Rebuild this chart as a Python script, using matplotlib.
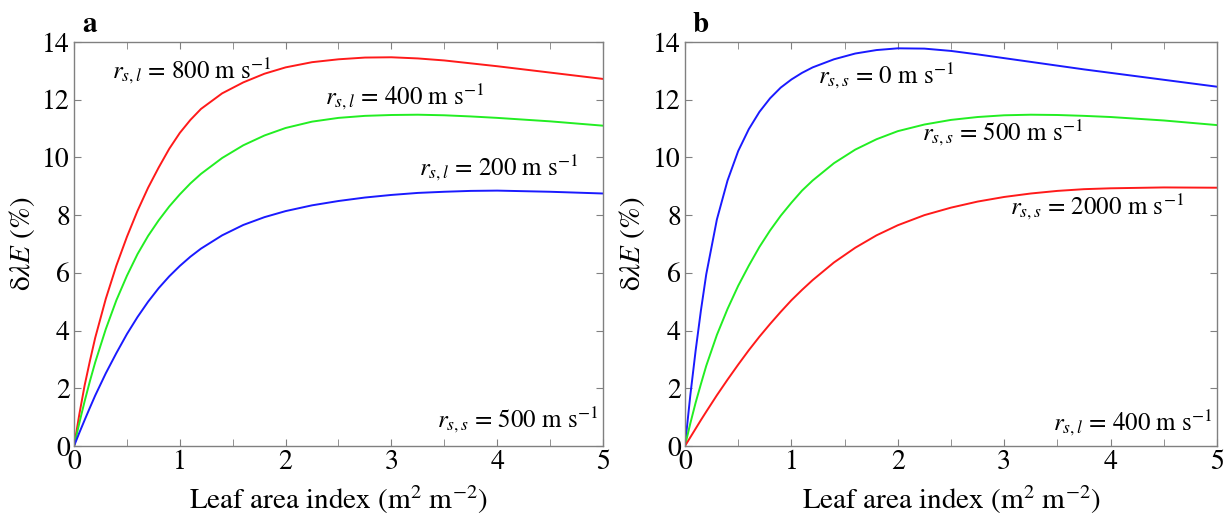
import numpy as np
import matplotlib.pyplot as plt
from matplotlib.ticker import MultipleLocator

plt.rcParams['font.family'] = ['STIXGeneral', 'DejaVu Serif']
plt.rcParams['mathtext.fontset'] = 'stix'

# leaf area index sample points
lai = [0, 0.05, 0.1, 0.15, 0.2, 0.3, 0.4, 0.5, 0.6, 0.7, 0.8, 0.9, 1.0, 1.1, 1.2,
       1.4, 1.6, 1.8, 2.0, 2.25, 2.5, 2.75, 3.0, 3.25, 3.5, 3.75, 4.0, 4.5, 5.0]

# panel a: r_s,s = 500, varying r_s,l
a_800 = [0, 1.1, 2.1, 2.95, 3.75, 5.1, 6.25, 7.25, 8.15, 8.95, 9.65, 10.3, 10.85, 11.3, 11.68,
         12.22, 12.6, 12.9, 13.12, 13.3, 13.4, 13.46, 13.47, 13.43, 13.36, 13.26, 13.16, 12.94, 12.72]
a_400 = [0, 0.8, 1.55, 2.25, 2.9, 4.05, 5.05, 5.9, 6.65, 7.28, 7.82, 8.3, 8.72, 9.1, 9.43,
         9.98, 10.42, 10.76, 11.02, 11.24, 11.37, 11.44, 11.47, 11.48, 11.46, 11.42, 11.37, 11.25, 11.1]
a_200 = [0, 0.46, 0.9, 1.33, 1.75, 2.52, 3.22, 3.88, 4.47, 5.0, 5.47, 5.88, 6.24, 6.56, 6.84,
         7.3, 7.66, 7.93, 8.14, 8.34, 8.49, 8.61, 8.7, 8.77, 8.81, 8.84, 8.85, 8.81, 8.75]

# panel b: r_s,l = 400, varying r_s,s
b_0 = [0, 1.75, 3.3, 4.7, 5.95, 7.85, 9.2, 10.22, 10.98, 11.58, 12.05, 12.42, 12.7, 12.93, 13.12,
       13.4, 13.6, 13.72, 13.78, 13.77, 13.69, 13.57, 13.44, 13.31, 13.18, 13.05, 12.93, 12.69, 12.45]
b_500 = [0, 0.78, 1.5, 2.15, 2.78, 3.85, 4.75, 5.55, 6.25, 6.9, 7.47, 7.98, 8.43, 8.85, 9.2,
         9.8, 10.27, 10.63, 10.91, 11.14, 11.3, 11.4, 11.46, 11.48, 11.47, 11.44, 11.4, 11.28, 11.12]
b_2000 = [0, 0.3, 0.6, 0.9, 1.19, 1.76, 2.3, 2.82, 3.32, 3.79, 4.23, 4.65, 5.05, 5.41, 5.75,
          6.36, 6.87, 7.3, 7.65, 8.0, 8.26, 8.47, 8.63, 8.75, 8.84, 8.9, 8.93, 8.96, 8.95]

fig = plt.figure(figsize=(12.26, 5.17), dpi=100)
ax1 = fig.add_axes([0.0604, 0.1373, 0.4314, 0.7815])
ax2 = fig.add_axes([0.5587, 0.1373, 0.434, 0.7815])

red = '#ff1a1a'
green = '#22ee22'
blue = '#1a1aff'

ax1.plot(lai, a_800, color=red, lw=1.4)
ax1.plot(lai, a_400, color=green, lw=1.4)
ax1.plot(lai, a_200, color=blue, lw=1.4)

ax2.plot(lai, b_0, color=blue, lw=1.4)
ax2.plot(lai, b_500, color=green, lw=1.4)
ax2.plot(lai, b_2000, color=red, lw=1.4)

fs = 18
ax1.text(0.36, 13.0, r'$r_{s,l}$ = 800 m s$^{-1}$', fontsize=fs, va='center')
ax1.text(2.37, 12.1, r'$r_{s,l}$ = 400 m s$^{-1}$', fontsize=fs, va='center')
ax1.text(3.26, 9.65, r'$r_{s,l}$ = 200 m s$^{-1}$', fontsize=fs, va='center')
ax1.text(4.96, 0.9, r'$r_{s,s}$ = 500 m s$^{-1}$', fontsize=fs, va='center', ha='right')

ax2.text(1.25, 12.85, r'$r_{s,s}$ = 0 m s$^{-1}$', fontsize=fs, va='center')
ax2.text(2.23, 10.85, r'$r_{s,s}$ = 500 m s$^{-1}$', fontsize=fs, va='center')
ax2.text(3.05, 8.3, r'$r_{s,s}$ = 2000 m s$^{-1}$', fontsize=fs, va='center')
ax2.text(4.96, 0.8, r'$r_{s,l}$ = 400 m s$^{-1}$', fontsize=fs, va='center', ha='right')

for ax, lab in [(ax1, 'a'), (ax2, 'b')]:
    ax.set_xlim(0, 5)
    ax.set_ylim(0, 14)
    ax.xaxis.set_major_locator(MultipleLocator(1))
    ax.xaxis.set_minor_locator(MultipleLocator(0.5))
    ax.yaxis.set_major_locator(MultipleLocator(2))
    ax.tick_params(which='both', direction='in', top=True, right=True,
                   color='#808080', labelsize=20, pad=3)
    ax.tick_params(which='major', length=5)
    ax.tick_params(which='minor', length=5)
    for sp in ax.spines.values():
        sp.set_color('#808080')
        sp.set_linewidth(1.0)
    ax.set_xlabel(r'Leaf area index (m$^{2}$ m$^{-2}$)', fontsize=21, labelpad=6)
    ax.set_ylabel(r'δ$\lambda E$ (%)', fontsize=21, labelpad=4)
    ax.text(0.015, 1.01, lab, transform=ax.transAxes, fontsize=21,
            fontweight='bold', va='bottom')

fig.savefig('out.png', dpi=100)
